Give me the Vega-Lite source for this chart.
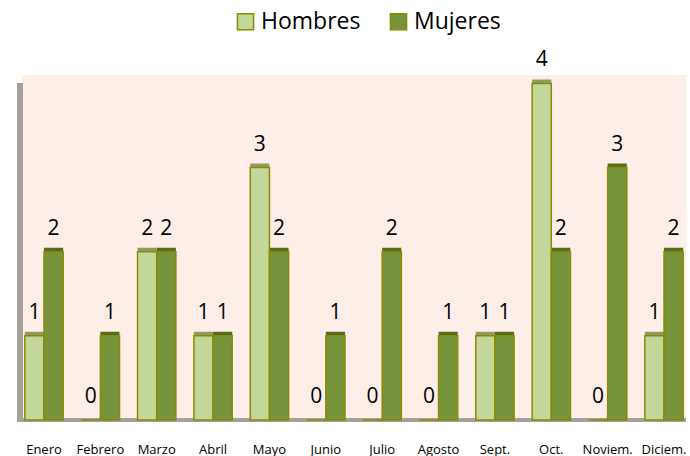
{
  "$schema": "https://vega.github.io/schema/vega-lite/v6.json",
  "autosize": "none",
  "width": 664,
  "height": 345,
  "padding": {"left": 22, "top": 75, "right": 4, "bottom": 36},
  "background": "white",
  "config": {
    "view": {"fill": "#fdeee8", "stroke": null},
    "font": "Open Sans"
  },
  "data": {
    "values": [
      {"mes": "Enero", "serie": "Hombres", "valor": 1},
      {"mes": "Enero", "serie": "Mujeres", "valor": 2},
      {"mes": "Febrero", "serie": "Hombres", "valor": 0},
      {"mes": "Febrero", "serie": "Mujeres", "valor": 1},
      {"mes": "Marzo", "serie": "Hombres", "valor": 2},
      {"mes": "Marzo", "serie": "Mujeres", "valor": 2},
      {"mes": "Abril", "serie": "Hombres", "valor": 1},
      {"mes": "Abril", "serie": "Mujeres", "valor": 1},
      {"mes": "Mayo", "serie": "Hombres", "valor": 3},
      {"mes": "Mayo", "serie": "Mujeres", "valor": 2},
      {"mes": "Junio", "serie": "Hombres", "valor": 0},
      {"mes": "Junio", "serie": "Mujeres", "valor": 1},
      {"mes": "Julio", "serie": "Hombres", "valor": 0},
      {"mes": "Julio", "serie": "Mujeres", "valor": 2},
      {"mes": "Agosto", "serie": "Hombres", "valor": 0},
      {"mes": "Agosto", "serie": "Mujeres", "valor": 1},
      {"mes": "Sept.", "serie": "Hombres", "valor": 1},
      {"mes": "Sept.", "serie": "Mujeres", "valor": 1},
      {"mes": "Oct.", "serie": "Hombres", "valor": 4},
      {"mes": "Oct.", "serie": "Mujeres", "valor": 2},
      {"mes": "Noviem.", "serie": "Hombres", "valor": 0},
      {"mes": "Noviem.", "serie": "Mujeres", "valor": 3},
      {"mes": "Diciem.", "serie": "Hombres", "valor": 1},
      {"mes": "Diciem.", "serie": "Mujeres", "valor": 2}
    ]
  },
  "encoding": {
    "x": {
      "field": "mes", "type": "nominal", "sort": null,
      "scale": {"paddingInner": 0.32, "paddingOuter": 0.05},
      "axis": {"title": null, "labelAngle": 0, "domain": false, "ticks": false,
               "labelFontSize": 13, "labelColor": "#000000", "labelPadding": 23,
               "labelFont": "Open Sans"}
    },
    "xOffset": {"field": "serie", "type": "nominal", "scale": {"paddingInner": 0}},
    "y": {
      "field": "valor", "type": "quantitative",
      "scale": {"domain": [0, 4.1], "nice": false},
      "axis": null
    }
  },
  "layer": [
    {
      "mark": {"type": "rule", "color": "#a6a09b", "strokeWidth": 5},
      "encoding": {"x": {"value": -2}, "y": {"value": 8}, "y2": {"value": 347}, "xOffset": null}
    },
    {
      "mark": {"type": "rule", "color": "#a6a09b", "strokeWidth": 4},
      "encoding": {"x": {"value": -4}, "x2": {"value": 664}, "y": {"datum": 0}, "xOffset": null}
    },
    {
      "mark": {"type": "bar", "xOffset": 4, "yOffset": -4},
      "encoding": {
        "color": {
          "field": "serie", "type": "nominal",
          "scale": {"domain": ["Hombres", "Mujeres"], "range": ["#8e9a62", "#556b28"]},
          "legend": null
        }
      }
    },
    {
      "mark": {"type": "bar", "strokeWidth": 1.5},
      "encoding": {
        "color": {
          "field": "serie", "type": "nominal",
          "scale": {"domain": ["Hombres", "Mujeres"], "range": ["#c4d79b", "#77933c"]},
          "legend": {
            "title": null, "orient": "none", "legendX": 212, "legendY": -65,
            "direction": "horizontal", "symbolType": "square", "symbolSize": 260,
            "symbolStrokeColor": "#8a8a00", "symbolStrokeWidth": 1.5,
            "labelFontSize": 23, "labelColor": "#000000", "columnPadding": 26,
            "labelFont": "Open Sans", "labelOffset": 4
          }
        },
        "stroke": {"value": "#8a8a00"}
      }
    },
    {
      "mark": {"type": "text", "fontSize": 21, "dy": -17, "baseline": "alphabetic", "color": "#000000"},
      "encoding": {"text": {"field": "valor", "type": "quantitative"}}
    }
  ],
  "resolve": {"scale": {"color": "independent"}}
}
